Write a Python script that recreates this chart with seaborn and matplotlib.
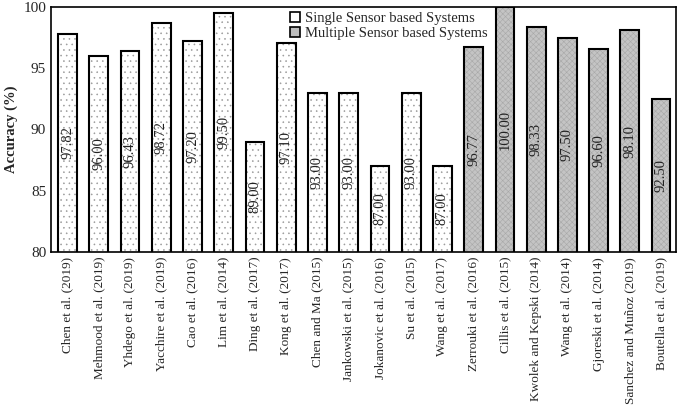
import pandas as pd
import matplotlib.pyplot as plt
import seaborn as sns
from matplotlib.patches import Patch, Rectangle

# Study names and accuracies
studies = ['Chen et al. (2019)', 'Mehmood et al. (2019)', 'Yhdego et al. (2019)',
           'Yacchire et al. (2019)', 'Cao et al. (2016)', 'Lim et al. (2014)',
           'Ding et al. (2017)', 'Kong et al. (2017)', 'Chen and Ma (2015)',
           'Jankowski et al. (2015)', 'Jokanovic et al. (2016)', 'Su et al. (2015)',
           'Wang et al. (2017)', 'Zerrouki et al. (2016)', 'Cillis et al. (2015)',
           'Kwolek and Kepski (2014)', 'Wang et al. (2014)', 'Gjoreski et al. (2014)',
           'Sanchez and Muñoz (2019)', 'Boutella et al. (2019)']
accuracy = [97.82, 96.00, 96.43, 98.72, 97.20, 99.50, 89.00, 97.10, 93.00, 93.00,
            87.00, 93.00, 87.00, 96.77, 100.00, 98.33, 97.50, 96.60, 98.10, 92.50]
groups = ['Single Sensor based Systems'] * 13 + ['Multiple Sensor based Systems'] * 7

df = pd.DataFrame({'Study': studies, 'Accuracy': accuracy, 'Group': groups})

sns.set_style('white')
plt.rcParams['font.family'] = ['Liberation Serif', 'DejaVu Serif']
plt.rcParams['hatch.linewidth'] = 0.4

fig = plt.figure(figsize=(6.85, 4.15), dpi=100)
ax = fig.add_axes([0.0745, 0.393, 0.9125, 0.59])

sns.barplot(data=df, x='Study', y='Accuracy', hue='Group', dodge=False,
            width=0.6, ax=ax, legend=False)

styles = {
    'Single Sensor based Systems': dict(face='white', hatch='...', hc='#9a9a9a'),
    'Multiple Sensor based Systems': dict(face='#c4c4c4', hatch='xxxxxx', hc='#a8a8a8'),
}
for cont, grp in zip(ax.containers, df['Group'].unique()):
    st = styles[grp]
    for p in cont.patches:
        if pd.isna(p.get_height()) or p.get_height() == 0:
            continue
        p.set_facecolor(st['face'])
        p.set_hatch(st['hatch'])
        p.set_edgecolor(st['hc'])
        p.set_linewidth(0)
        ax.add_patch(Rectangle(p.get_xy(), p.get_width(), p.get_height(),
                               fill=False, edgecolor='black', linewidth=1.5))
        ax.text(p.get_x() + p.get_width() / 2, (80 + p.get_height()) / 2,
                f'{p.get_height():.2f}', rotation=90, ha='center', va='center',
                fontsize=10.5, color='#222222')

ax.set_ylim(80, 100)
ax.set_yticks([80, 85, 90, 95, 100])
ax.set_xlim(-0.53, len(studies) - 0.52)
ax.set_xlabel('')
ax.set_ylabel('Accuracy (%)', fontweight='bold', fontsize=10.5)
ax.tick_params(axis='y', labelsize=11, length=0)
ax.tick_params(axis='x', labelsize=9.5, length=0, rotation=90)
for s in ax.spines.values():
    s.set_visible(True)
    s.set_color('black')
    s.set_linewidth(1.2)

handles = [Patch(facecolor='white', edgecolor='black', linewidth=1.2),
           Patch(facecolor='#bdbdbd', edgecolor='black', linewidth=1.2)]
ax.legend(handles, list(styles.keys()), loc='upper center', bbox_to_anchor=(0.54, 1.01),
          frameon=False, fontsize=10.5, handlelength=0.7, handleheight=0.7,
          handletextpad=0.3, labelspacing=0.1, borderaxespad=0.1)

fig.savefig('out.png', dpi=100)
